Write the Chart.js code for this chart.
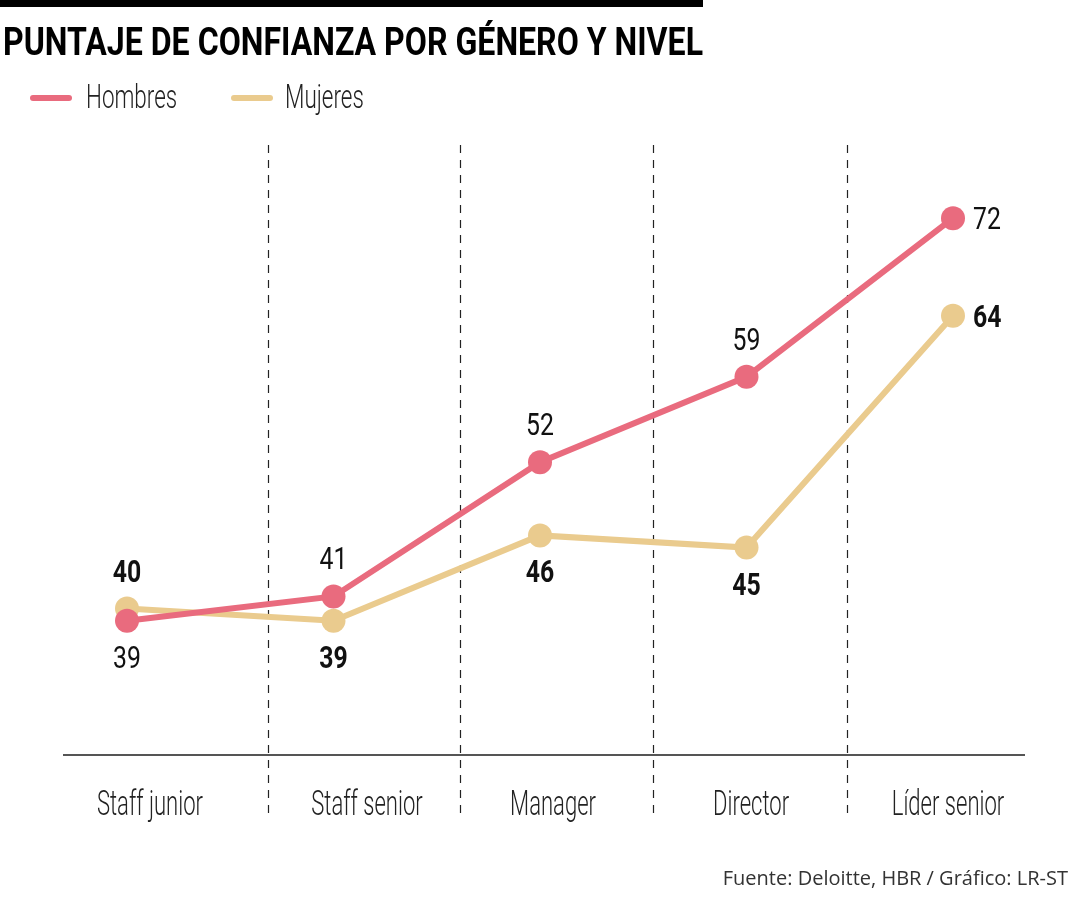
<!DOCTYPE html>
<html lang="es">
<head>
<meta charset="utf-8">
<title>Puntaje de confianza por género y nivel</title>
<script src="https://cdn.jsdelivr.net/npm/chart.js@4.4.1/dist/chart.umd.min.js"></script>
<style>
  html, body { margin: 0; padding: 0; background: #fff; }
  #wrap { position: relative; width: 1080px; height: 900px; overflow: hidden; }
  #topbar { position: absolute; left: 0; top: 0; width: 703px; height: 7px; background: #000; }
  #title { position: absolute; left: 3px; top: 20px; margin: 0; white-space: nowrap;
           font: 700 38px Roboto, "DejaVu Sans Condensed", sans-serif; color: #000;
           transform-origin: left top; }
  .leg { position: absolute; top: 98px; height: 0; }
  .leg i { position: absolute; left: 0; top: -3px; width: 42px; height: 6px; border-radius: 3px; }
  .leg span { position: absolute; top: -22px; white-space: nowrap; font: 300 34px Roboto, sans-serif; color: #222;
              transform: scaleX(0.66); transform-origin: left top; }
  #footer { position: absolute; right: 12px; top: 864px; font: 20px "Open Sans", "Liberation Sans", sans-serif; color: #333; white-space: nowrap; }
  canvas { position: absolute; left: 0; top: 0; }
</style>
</head>
<body>
<div id="wrap">
  <canvas id="chart" width="1080" height="900"></canvas>
  <div id="topbar"></div>
  <h1 id="title">PUNTAJE DE CONFIANZA POR GÉNERO Y NIVEL</h1>
  <div class="leg" style="left:30px"><i style="background:#e96b7e"></i><span style="left:56px">Hombres</span></div>
  <div class="leg" style="left:231px"><i style="background:#eacb8e"></i><span style="left:54px">Mujeres</span></div>
  <div id="footer">Fuente: Deloitte, HBR / Gráfico: LR-ST</div>
</div>
<script>
const niveles = ['Staff junior', 'Staff senior', 'Manager', 'Director', 'Líder senior'];
const hombres = [39, 41, 52, 59, 72];
const mujeres = [40, 39, 46, 45, 64];

const colorHombres = '#e96b7e';
const colorMujeres = '#eacb8e';

// where each value label sits relative to its point
const posHombres = ['below', 'above', 'above', 'above', 'right'];
const posMujeres = ['above', 'below', 'below', 'below', 'right'];

// fit title to the black bar
(function () {
    const t = document.getElementById('title');
    const w = t.getBoundingClientRect().width;
    if (w > 0) t.style.transform = 'scaleX(' + (700 / w) + ')';
})();

// narrow text, the source uses a condensed face
function condText(ctx, txt, x, y, align, sx) {
    ctx.save();
    ctx.translate(x, y);
    ctx.scale(sx, 1);
    ctx.textAlign = align;
    ctx.textBaseline = 'alphabetic';
    ctx.fillText(txt, 0, 0);
    ctx.restore();
}

const decor = {
    id: 'decor',
    beforeDatasetsDraw(chart) {
        const { ctx, chartArea, scales } = chart;
        const x = scales.x;
        const x0 = x.getPixelForValue(0);
        const step = x.getPixelForValue(1) - x0;
        const at = f => x0 + f * step;

        ctx.save();
        // baseline
        ctx.strokeStyle = '#555';
        ctx.lineWidth = 2;
        ctx.beginPath();
        ctx.moveTo(63, chartArea.bottom);
        ctx.lineTo(1025, chartArea.bottom);
        ctx.stroke();

        // dashed separators between levels
        ctx.strokeStyle = '#222';
        ctx.lineWidth = 1.2;
        ctx.setLineDash([8, 7]);
        [0.683, 1.613, 2.547, 3.487].forEach(f => {
            const px = Math.round(at(f)) + 0.5;
            ctx.beginPath();
            ctx.moveTo(px, chartArea.top);
            ctx.lineTo(px, chartArea.bottom + 60);
            ctx.stroke();
        });
        ctx.setLineDash([]);

        // category labels
        ctx.fillStyle = '#222';
        ctx.font = '300 35px Roboto, sans-serif';
        [0.111, 1.162, 2.063, 3.022, 3.976].forEach((f, i) => {
            condText(ctx, niveles[i], at(f), chartArea.bottom + 60, 'center', 0.63);
        });
        ctx.restore();
    },
    afterDatasetsDraw(chart) {
        const { ctx } = chart;
        const places = [posHombres, posMujeres];
        const fonts = ['400 31px Roboto, sans-serif', '700 31px Roboto, sans-serif'];
        ctx.save();
        ctx.fillStyle = '#111';
        chart.data.datasets.forEach((ds, di) => {
            const meta = chart.getDatasetMeta(di);
            ctx.font = fonts[di];
            meta.data.forEach((pt, i) => {
                const p = places[di][i];
                const txt = String(ds.data[i]);
                if (p === 'right') {
                    condText(ctx, txt, pt.x + 20, pt.y + 11, 'left', 0.8);
                } else {
                    condText(ctx, txt, pt.x, p === 'above' ? pt.y - 27 : pt.y + 47, 'center', 0.8);
                }
            });
        });
        ctx.restore();
    }
};

new Chart(document.getElementById('chart'), {
    type: 'line',
    data: {
        labels: niveles,
        datasets: [
            {
                label: 'Hombres',
                data: hombres,
                borderColor: colorHombres,
                backgroundColor: colorHombres,
                borderWidth: 6,
                pointRadius: 12,
                pointBorderWidth: 0,
                tension: 0,
                clip: false
            },
            {
                label: 'Mujeres',
                data: mujeres,
                borderColor: colorMujeres,
                backgroundColor: colorMujeres,
                borderWidth: 6,
                pointRadius: 12,
                pointBorderWidth: 0,
                tension: 0,
                clip: false
            }
        ]
    },
    options: {
        responsive: false,
        animation: false,
        layout: { padding: { left: 127, right: 127, top: 145, bottom: 145 } },
        plugins: { legend: { display: false }, tooltip: { enabled: false } },
        scales: {
            x: { display: false, offset: false },
            y: { display: false, min: 28, max: 78 }
        }
    },
    plugins: [decor]
});
</script>
</body>
</html>
